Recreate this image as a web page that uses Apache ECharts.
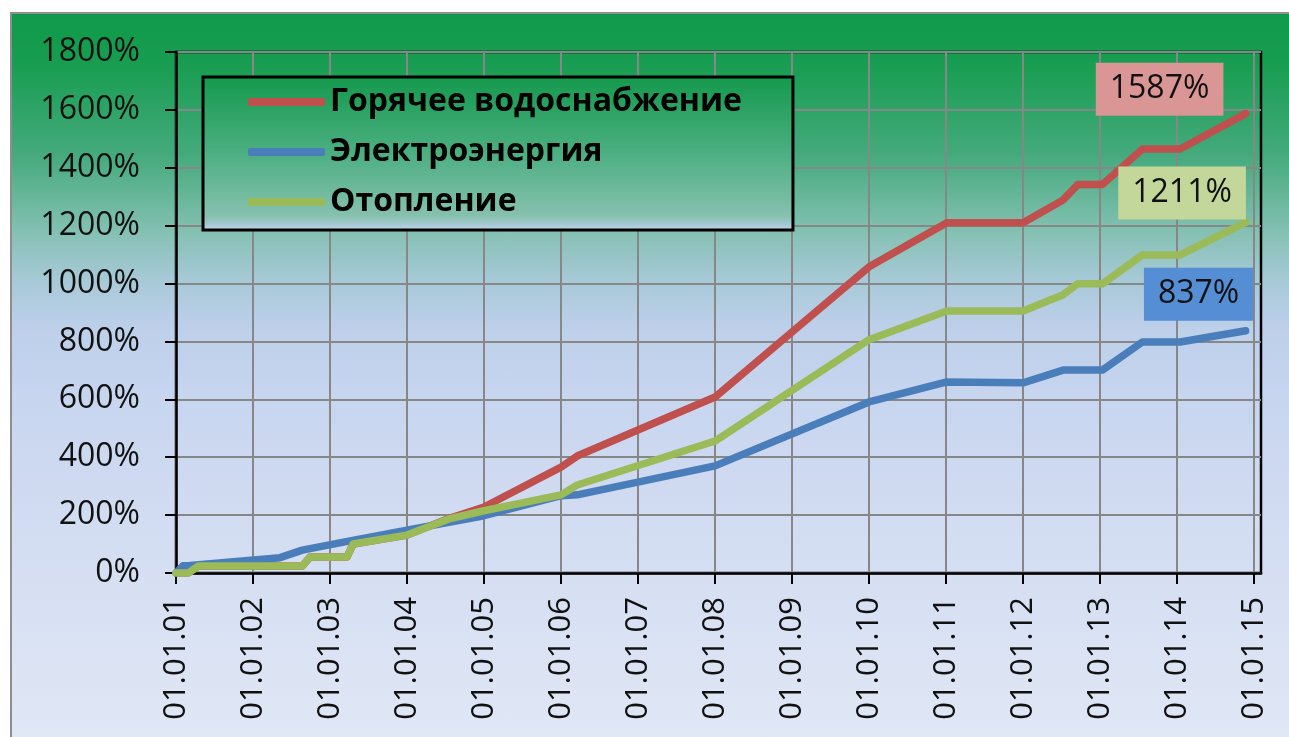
<!DOCTYPE html>
<html><head><meta charset="utf-8">
<script src="https://cdn.jsdelivr.net/npm/echarts@6/dist/echarts.min.js"></script>
<style>
html,body{margin:0;padding:0;background:#fff;overflow:hidden;}
#frame{position:absolute;left:10px;top:12px;width:1300px;height:740px;border:2px solid #8e8e8e;
background:linear-gradient(to bottom,#0f9a4a 0px,#189d51 50px,#44aa7c 140px,#86c1b4 220px,#a6c9d6 265px,#bccfe9 310px,#c7d5ef 380px,#d3ddf2 520px,#e0e7f5 725px);}
#chart{position:absolute;left:0;top:0;width:1289px;height:737px;}
</style></head><body>
<div id="frame"></div><div id="chart"></div>
<script>
// ---- data ----
const seriesNames = ['Горячее водоснабжение', 'Электроэнергия', 'Отопление'];

const hotWaterDates  = [2001.0, 2001.16, 2001.29, 2002.64, 2002.74, 2003.22, 2003.30, 2004.0, 2004.56, 2005.0, 2006.0, 2006.21, 2008.0, 2010.0, 2011.01, 2012.0, 2012.52, 2012.71, 2013.03, 2013.55, 2014.04, 2014.89];
const hotWaterValues = [0, 0, 24, 24, 55, 55, 100, 131, 190, 228, 366, 404, 608, 1058, 1210, 1210, 1289, 1342, 1342, 1465, 1465, 1587];

const electricityDates  = [2001.0, 2001.09, 2001.18, 2002.35, 2002.64, 2003.26, 2004.0, 2005.0, 2006.0, 2006.21, 2008.0, 2010.0, 2011.01, 2012.0, 2012.52, 2013.03, 2013.55, 2014.04, 2014.89];
const electricityValues = [0, 25, 26, 53, 79, 111, 148, 198, 267, 270, 370, 591, 660, 657, 701, 701, 798, 798, 837];

const heatingDates  = [2001.0, 2001.16, 2001.29, 2002.64, 2002.74, 2003.22, 2003.30, 2004.0, 2004.56, 2005.0, 2006.0, 2006.21, 2008.0, 2010.0, 2011.01, 2012.0, 2012.52, 2012.71, 2013.03, 2013.55, 2014.04, 2014.89];
const heatingValues = [0, 0, 24, 24, 55, 55, 100, 131, 188, 215, 270, 304, 456, 806, 905, 905, 961, 999, 999, 1099, 1099, 1211];

const xTickValues = [2001, 2002, 2003, 2004, 2005, 2006, 2007, 2008, 2009, 2010, 2011, 2012, 2013, 2014, 2015];
const xTickLabels = ['01.01.01','01.01.02','01.01.03','01.01.04','01.01.05','01.01.06','01.01.07','01.01.08','01.01.09','01.01.10','01.01.11','01.01.12','01.01.13','01.01.14','01.01.15'];
const yTickValues = [0, 200, 400, 600, 800, 1000, 1200, 1400, 1600, 1800];

// ---- styles ----
const colors = ['#c0504d', '#4a7ebb', '#9bbb59'];
const endBoxColors = ['#d99694', '#558ed5', '#c4d79b'];
const endOffsets = [[-86, 5.5], [-47, -6.5], [-63.5, 0.5]];

function buildData(dates, values, idx) {
  return dates.map((d, i) => {
    if (i < dates.length - 1) return [d, values[i]];
    return {
      value: [d, values[i]],
      symbol: 'circle',
      symbolSize: 7,
      label: {
        show: true,
        position: 'top',
        distance: 0,
        offset: endOffsets[idx],
        formatter: values[i] + '%',
        backgroundColor: endBoxColors[idx],
        color: '#111',
        fontFamily: 'Open Sans',
        fontSize: 32,
        lineHeight: 33,
        padding: [10, 14, 10, 14]
      }
    };
  });
}

const allDates = [hotWaterDates, electricityDates, heatingDates];
const allValues = [hotWaterValues, electricityValues, heatingValues];

const series = seriesNames.map((name, idx) => ({
  name: name,
  type: 'line',
  data: buildData(allDates[idx], allValues[idx], idx),
  symbol: 'none',
  showSymbol: true,
  color: colors[idx],
  lineStyle: { width: 7.5, color: colors[idx], cap: 'round', join: 'round' },
  itemStyle: { color: colors[idx] },
  animation: false,
  silent: true
}));

const chart = echarts.init(document.getElementById('chart'), null, { renderer: 'canvas' });
chart.setOption({
  backgroundColor: 'transparent',
  animation: false,
  grid: {
    left: 176, right: 28, top: 52, bottom: 164,
    show: true, borderColor: '#000', borderWidth: 2.5, backgroundColor: 'transparent'
  },
  legend: {
    orient: 'vertical',
    left: 203, top: 77,
    padding: [9, 51, 12, 45],
    itemGap: 18,
    itemWidth: 77, itemHeight: 8,
    icon: 'roundRect',
    borderColor: '#000', borderWidth: 3,
    backgroundColor: new echarts.graphic.LinearGradient(0, 0, 0, 1, [
      { offset: 0, color: '#13994b' },
      { offset: 0.5, color: '#4caf82' },
      { offset: 0.9, color: '#86c1ae' },
      { offset: 0.96, color: '#a8c9d6' },
      { offset: 1, color: '#d2dcf3' }
    ]),
    textStyle: { fontFamily: 'Open Sans', fontWeight: 'bold', fontSize: 32, color: '#000' },
    data: seriesNames
  },
  xAxis: {
    type: 'value',
    min: 2001, max: 2015.09, interval: 1,
    axisLine: { show: true, lineStyle: { color: '#000', width: 2.5 } },
    axisTick: { show: true, length: 11, lineStyle: { color: '#000', width: 2 }, customValues: xTickValues },
    axisLabel: {
      customValues: xTickValues,
      rotate: 90, margin: 24,
      color: '#111', fontFamily: 'Open Sans', fontSize: 31,
      formatter: v => { const i = xTickValues.indexOf(Math.round(v * 1000) / 1000); return i >= 0 ? xTickLabels[i] : ''; }
    },
    splitLine: { show: true, lineStyle: { color: '#878787', width: 2 } }
  },
  yAxis: {
    type: 'value',
    min: yTickValues[0], max: yTickValues[yTickValues.length - 1], interval: 200,
    axisLine: { show: true, lineStyle: { color: '#000', width: 2.5 } },
    axisTick: { show: true, length: 11, lineStyle: { color: '#000', width: 2 } },
    axisLabel: { margin: 36, color: '#111', fontFamily: 'Open Sans', fontSize: 32, formatter: v => v + '%' },
    splitLine: { show: true, lineStyle: { color: '#878787', width: 2 } }
  },
  series: series
});
</script></body></html>
